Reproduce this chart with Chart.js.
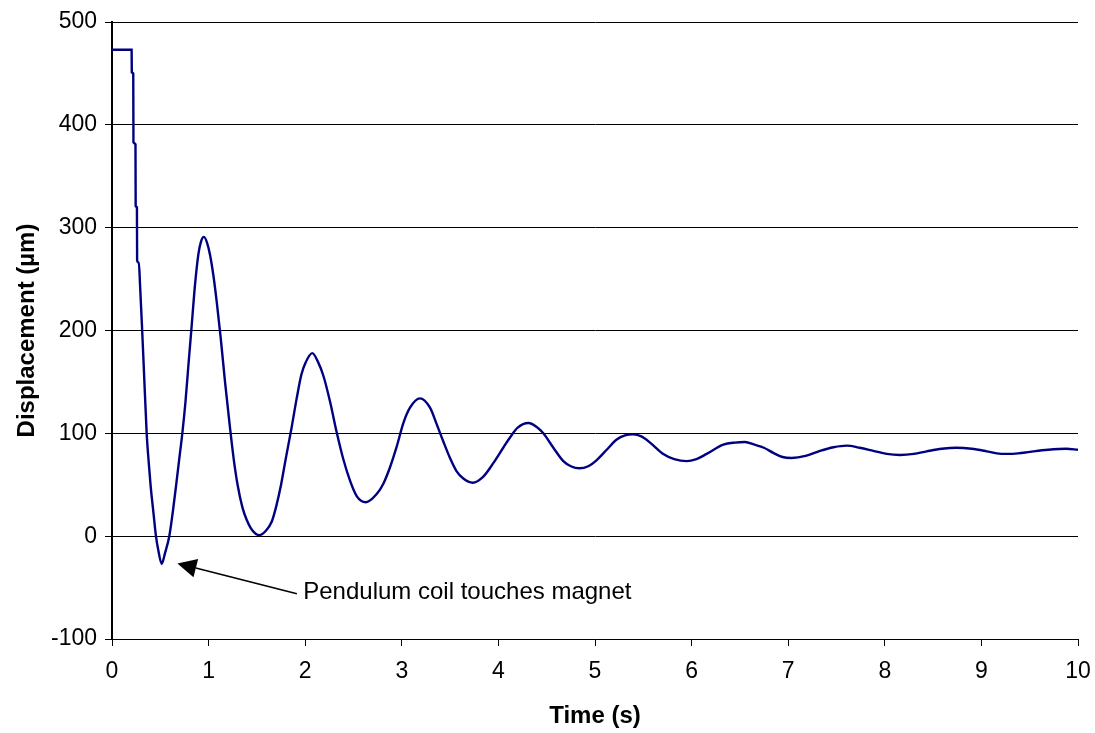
<!DOCTYPE html>
<html>
<head>
<meta charset="utf-8">
<script src="https://cdn.jsdelivr.net/npm/chart.js@4/dist/chart.umd.min.js"></script>
<style>
  html, body { margin: 0; padding: 0; background: #ffffff; }
  #wrap { width: 1095px; height: 733px; }
</style>
</head>
<body>
<div id="wrap"><canvas id="c" width="1095" height="733"></canvas></div>
<script>
// ---- data ----
const times = [0, 0.203, 0.205, 0.220, 0.222, 0.243, 0.245, 0.258, 0.260, 0.278, 0.29, 0.31, 0.33, 0.359, 0.38, 0.40, 0.43, 0.455, 0.48, 0.514, 0.55, 0.593, 0.63, 0.663, 0.70, 0.728, 0.76, 0.79, 0.825, 0.86, 0.894, 0.92, 0.952, 0.985, 1.014, 1.049, 1.084, 1.125, 1.17, 1.222, 1.26, 1.30, 1.35, 1.394, 1.45, 1.525, 1.59, 1.653, 1.70, 1.75, 1.80, 1.86, 1.91, 1.96, 2.00, 2.073, 2.13, 2.188, 2.257, 2.326, 2.394, 2.464, 2.533, 2.629, 2.74, 2.809, 2.878, 2.947, 3.016, 3.085, 3.188, 3.292, 3.361, 3.43, 3.499, 3.568, 3.637, 3.734, 3.844, 3.947, 4.05, 4.12, 4.20, 4.31, 4.40, 4.465, 4.569, 4.672, 4.75, 4.837, 4.93, 5.018, 5.121, 5.225, 5.31, 5.397, 5.48, 5.57, 5.707, 5.82, 5.949, 6.05, 6.156, 6.328, 6.45, 6.553, 6.65, 6.749, 6.846, 6.94, 7.036, 7.18, 7.329, 7.47, 7.605, 7.74, 7.881, 8.02, 8.157, 8.30, 8.434, 8.59, 8.744, 8.90, 9.055, 9.16, 9.262, 9.38, 9.503, 9.69, 9.88, 10];
const displacement = [473, 473, 451, 450, 383, 381, 321, 320, 268, 266, 245, 205, 162, 100, 72, 49, 22, 0, -14, -27, -16, 0, 24, 49, 78, 100, 130, 165, 205, 245, 274, 286, 291, 285, 274, 254, 228, 193, 150, 105, 75, 50, 28, 16, 6, 1, 5, 14, 29, 50, 76, 106, 133, 157, 168, 178, 170, 156, 131, 101, 75, 54, 39, 33, 41, 51, 67, 87, 110, 125, 134, 125, 109, 92, 76, 63, 56, 52, 58, 71, 86, 96, 105.5, 110, 106, 100, 86, 73, 68, 66, 68, 74, 84, 94, 98, 99, 97, 91, 80, 75, 73, 75, 80, 89, 91, 91.5, 89, 86, 81, 77, 76, 78, 83, 86.5, 88, 86, 83, 80, 79, 80, 82.5, 85, 86, 85, 82.5, 80.5, 80, 80.5, 82, 84, 85, 84];
const xTicks = [0, 1, 2, 3, 4, 5, 6, 7, 8, 9, 10];
const yTicks = [-100, 0, 100, 200, 300, 400, 500];
const xTitle = 'Time (s)';
const yTitle = 'Displacement (µm)';
const noteText = 'Pendulum coil touches magnet';
const noteTip = [0.677, -26.5];   // arrow tip (data units)
const noteTail = [1.914, -56];    // arrow tail (data units)
const noteLabel = [1.98, -54.5];  // text start (data units)

const FONT = "'Liberation Sans', Arial, Helvetica, sans-serif";

const points = times.map((t, i) => ({ x: t, y: displacement[i] }));

const annotationPlugin = {
  id: 'noteArrow',
  afterDraw(chart) {
    const ctx = chart.ctx;
    const xs = chart.scales.x, ys = chart.scales.y;
    const tx = xs.getPixelForValue(noteTip[0]), ty = ys.getPixelForValue(noteTip[1]);
    const sx = xs.getPixelForValue(noteTail[0]), sy = ys.getPixelForValue(noteTail[1]);
    const ang = Math.atan2(ty - sy, tx - sx);
    const headLen = 19, headHalf = 9.5;
    const bx = tx - headLen * Math.cos(ang), by = ty - headLen * Math.sin(ang);
    ctx.save();
    ctx.strokeStyle = '#000';
    ctx.fillStyle = '#000';
    ctx.lineWidth = 1.6;
    ctx.beginPath();
    ctx.moveTo(sx, sy);
    ctx.lineTo(bx, by);
    ctx.stroke();
    ctx.beginPath();
    ctx.moveTo(tx, ty);
    ctx.lineTo(bx + headHalf * Math.sin(ang), by - headHalf * Math.cos(ang));
    ctx.lineTo(bx - headHalf * Math.sin(ang), by + headHalf * Math.cos(ang));
    ctx.closePath();
    ctx.fill();
    ctx.font = '24px ' + FONT;
    ctx.textAlign = 'left';
    ctx.textBaseline = 'middle';
    ctx.fillText(noteText, xs.getPixelForValue(noteLabel[0]), ys.getPixelForValue(noteLabel[1]));
    ctx.restore();
  }
};

new Chart(document.getElementById('c'), {
  type: 'line',
  data: {
    datasets: [{
      data: points,
      borderColor: '#000080',
      borderWidth: 2.4,
      pointRadius: 0,
      fill: false,
      cubicInterpolationMode: 'monotone'
    }]
  },
  options: {
    responsive: false,
    animation: false,
    devicePixelRatio: 1,
    layout: { padding: { left: 0, top: 22, right: 17, bottom: 0 } },
    plugins: { legend: { display: false }, tooltip: { enabled: false } },
    scales: {
      x: {
        type: 'linear',
        min: 0, max: 10,
        afterFit(s) { s.height = 94; s.paddingLeft = 0; s.paddingRight = 0; },
        afterBuildTicks(s) { s.ticks = xTicks.map(v => ({ value: v })); },
        ticks: { color: '#000', font: { family: FONT, size: 23 }, padding: 12, maxRotation: 0 },
        grid: { drawOnChartArea: false, drawTicks: true, tickLength: 7, color: '#000' },
        border: { display: true, color: '#000', width: 1 },
        title: { display: true, text: xTitle, color: '#000', font: { family: FONT, size: 24, weight: 'bold' }, padding: { top: 0, bottom: 2 } }
      },
      y: {
        type: 'linear',
        min: -100, max: 500,
        afterFit(s) { s.width = 112; s.paddingTop = 0; s.paddingBottom = 0; },
        afterBuildTicks(s) { s.ticks = yTicks.map(v => ({ value: v })); },
        ticks: { color: '#000', font: { family: FONT, size: 23 }, padding: 8 },
        grid: { drawOnChartArea: true, drawTicks: true, tickLength: 7, color: '#000', lineWidth: 1 },
        border: { display: true, color: '#000', width: 2 },
        title: { display: true, text: yTitle, color: '#000', font: { family: FONT, size: 24, weight: 'bold' }, padding: { top: 13, bottom: 0 } }
      }
    }
  },
  plugins: [annotationPlugin]
});
</script>
</body>
</html>
